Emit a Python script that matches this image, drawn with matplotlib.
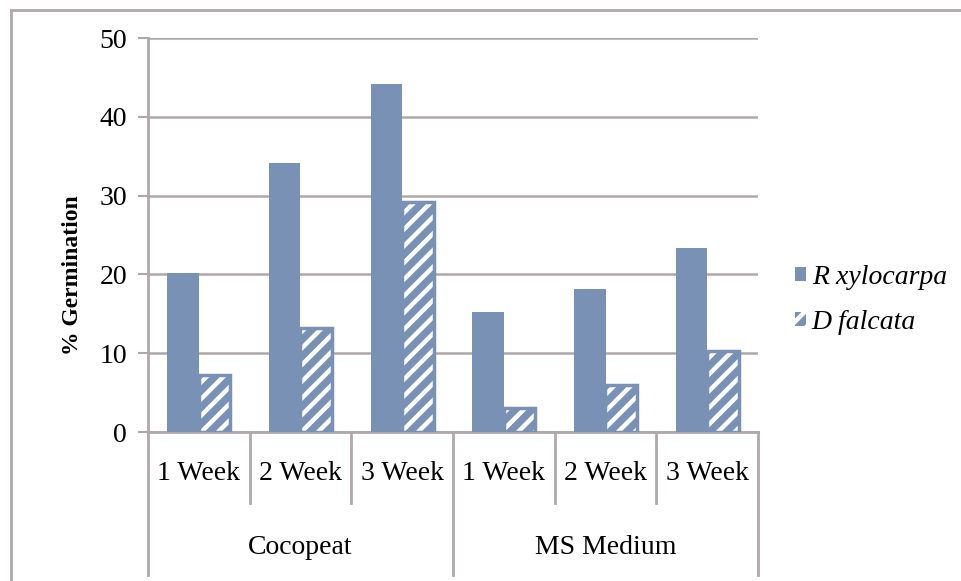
import matplotlib
matplotlib.use("Agg")
import matplotlib.pyplot as plt
from matplotlib.patches import Patch
from matplotlib.lines import Line2D
import numpy as np

# Data
weeks = ["1 Week", "2 Week", "3 Week", "1 Week", "2 Week", "3 Week"]
media = ["Cocopeat", "MS Medium"]
r_xylocarpa = [20.2, 34.1, 44.1, 15.2, 18.1, 23.3]
d_falcata = [7.2, 13.2, 29.2, 3.1, 6.0, 10.3]
series_names = ["R xylocarpa", "D falcata"]
y_ticks = [0, 10, 20, 30, 40, 50]

BLUE = "#7891B5"
GREY = "#B0A8A8"
FS = 20

plt.rcParams['font.family'] = ['Liberation Serif', 'DejaVu Serif']
plt.rcParams['hatch.linewidth'] = 3.2

W, H = 962, 581
fig = plt.figure(figsize=(W / 100, H / 100), dpi=100)
ax = fig.add_axes([148 / W, (H - 432) / H, (758 - 148) / W, (432 - 38) / H])

x = np.arange(len(weeks))
w = 0.31
ax.bar(x - w / 2, r_xylocarpa, w, color=BLUE, linewidth=0, zorder=3)
ax.bar(x + w / 2, d_falcata, w, color=BLUE, edgecolor='white', hatch='//',
       linewidth=0, zorder=3)
ax.bar(x + w / 2, d_falcata, w, fill=False, edgecolor=BLUE, linewidth=2.5,
       zorder=4)

ax.set_xlim(-0.5, len(weeks) - 0.5)
ax.set_ylim(0, 50)
ax.set_yticks(y_ticks)
ax.set_yticklabels([str(t) for t in y_ticks], fontsize=FS)
ax.tick_params(axis='y', length=7, width=1.5, color=GREY, pad=8)
ax.set_xticks([])
ax.yaxis.grid(True, color=GREY, linewidth=1.8, zorder=0)
ax.set_axisbelow(True)

for s in ("top", "right"):
    ax.spines[s].set_visible(False)
for s in ("left", "bottom"):
    ax.spines[s].set_color(GREY)
    ax.spines[s].set_linewidth(2)

# Two-level category axis
axh = 432 - 38
short_y = (432 - 503) / axh
long_y = (432 - 575) / axh
trans = ax.get_xaxis_transform()
for i in range(len(weeks) + 1):
    xs = i - 0.5
    yb = long_y if i % 3 == 0 else short_y
    ax.add_line(Line2D([xs, xs], [0, yb], transform=trans, color=GREY,
                       linewidth=2, clip_on=False))
for i, lab in enumerate(weeks):
    ax.text(i, (432 - 474) / axh, lab, transform=trans, ha='center',
            va='center', fontsize=FS)
for j, lab in enumerate(media):
    ax.text(3 * j + 1, (432 - 548) / axh, lab, transform=trans, ha='center',
            va='center', fontsize=FS)

# Y axis title
fig.text(72 / W, 1 - 275 / H, "% Germination", rotation=90, ha='center',
         va='center', fontsize=17, fontweight='bold')

# Legend
handles = [Patch(facecolor=BLUE, linewidth=0),
           Patch(facecolor=BLUE, edgecolor='white', hatch='//', linewidth=0)]
ax.legend(handles, series_names, loc='center left',
          bbox_to_anchor=(770 / W, 1 - 300 / H), bbox_transform=fig.transFigure,
          frameon=False, handlelength=0.4, handleheight=0.4,
          handletextpad=0.2, labelspacing=0.7,
          prop={'family': 'Liberation Serif', 'style': 'italic', 'size': FS})

# Outer frame lines
fig.add_artist(Line2D([11 / W, 1], [1 - 10 / H, 1 - 10 / H], color=GREY,
                      linewidth=2, transform=fig.transFigure))
fig.add_artist(Line2D([11 / W, 11 / W], [0, 1 - 10 / H], color=GREY,
                      linewidth=2, transform=fig.transFigure))

fig.savefig("out.png", dpi=100)
